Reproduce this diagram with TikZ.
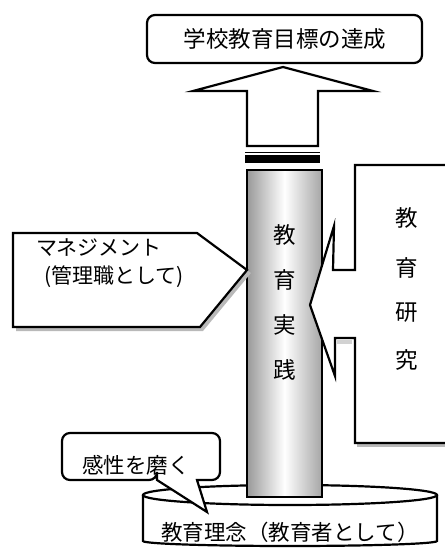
\documentclass[tikz,border=0pt]{standalone}
\usepackage{fontspec}
\newfontfamily\jp{Noto Sans CJK JP}
\begin{document}
\begin{tikzpicture}[x=1pt,y=-1pt,line join=miter,
  outl/.style={draw=black,line width=2.2pt},
  jt/.style={font=\jp\fontsize{22.5}{26}\selectfont,inner sep=0pt},
  jts/.style={font=\jp\fontsize{21}{24}\selectfont,inner sep=0pt}]
\useasboundingbox (0,0) rectangle (445,550);
\clip (0,0) rectangle (445,550);
% base cylinder
\path[outl,fill=white] (143,495) -- (143,541) arc[start angle=180,end angle=0,x radius=147,y radius=5] -- (437,495);
\draw[outl,fill=white] (290,495) ellipse [x radius=147,y radius=10];
\node[jt,font=\jp\fontsize{21.5}{24}\selectfont] (rinen) at (290,532) {教育理念（教育者として）};
% pillar
\shade[left color=gray!80,right color=gray!70,middle color=white] (247,170) rectangle (322,497);
\draw[outl] (247,170) rectangle (322,497);
\node[jt] (p1) at (285,235) {教};
\node[jt] (p2) at (285,280) {育};
\node[jt] (p3) at (285,325) {実};
\node[jt] (p4) at (285,370) {践};
% up arrow
\draw[outl,fill=white] (247,146) -- (247,91) -- (193,91) -- (283,67) -- (373,91) -- (318,91) -- (318,146) -- cycle;
\draw[line width=1pt] (245,152) -- (320,152);
\fill (245,155) rectangle (320,163);
% goal box
\draw[outl,rounded corners=8pt,fill=white] (147,15) rectangle (422,63);
\node[jt] (goal) at (285,39) {学校教育目標の達成};
% management pentagon
\fill[gray!55] (16,327) -- (16,331) -- (203,331) -- (251,273) -- (247,270) -- (200,327) -- cycle;
\draw[outl,fill=white] (13,233) -- (197,233) -- (247,270) -- (200,327) -- (13,327) -- cycle;
\node[jts] (m1) at (99,248) {マネジメント};
\node[jts] (m2) at (114,277) {(管理職として)};
% research box
\fill[gray!55] (357,443) rectangle (450,447);
\fill[gray!35] (337,272) rectangle (341,300);
\fill[gray!35] (337,340) rectangle (352,344);
\draw[outl,fill=white] (450,165) -- (355,165) -- (355,270) -- (333,270) -- (334,226) -- (310,305) -- (335,376) -- (335,338) -- (355,338) -- (355,443) -- (450,443);
\node[jt] (r1) at (407,218) {教};
\node[jt] (r2) at (407,268) {育};
\node[jt] (r3) at (407,313) {研};
\node[jt] (r4) at (407,360) {究};
% speech bubble
\draw[outl,fill=white] (157,480) -- (207,512) -- (197,480) [rounded corners=8pt] -- (220,480) -- (220,433) -- (62,433) -- (62,480) -- (157,480) [sharp corners] -- cycle;
\node[jt,font=\jp\fontsize{21.5}{24}\selectfont] (kansei) at (136,465) {感性を磨く};
\end{tikzpicture}
\end{document}
